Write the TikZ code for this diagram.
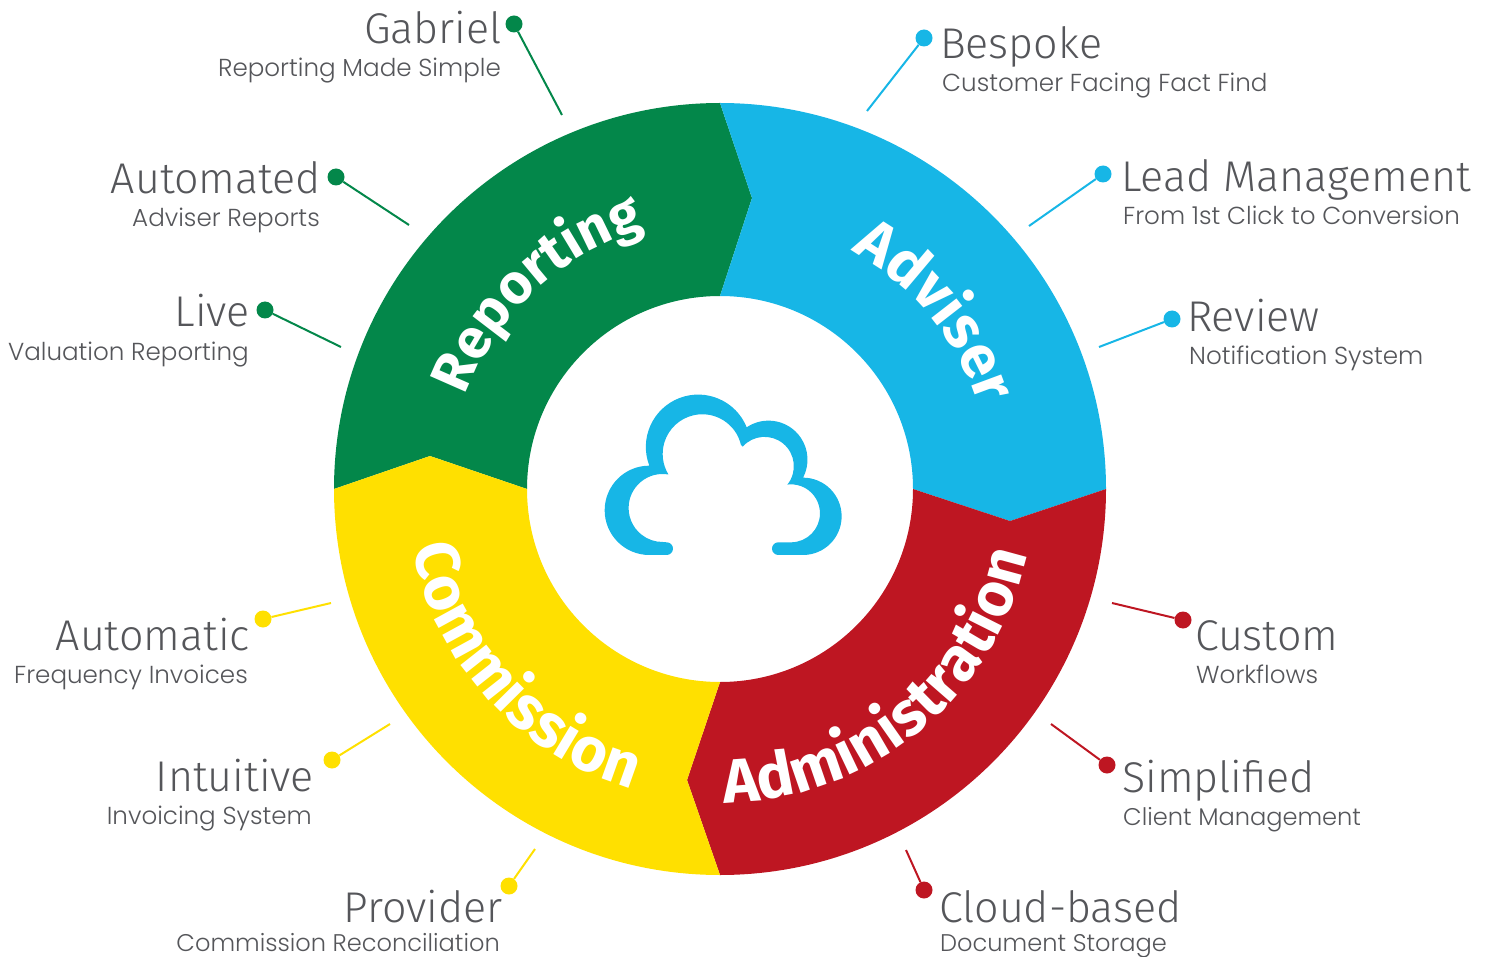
\documentclass[tikz,border=0pt]{standalone}
\usepackage{fontspec}
\setmainfont{Fira Sans}[UprightFont=* Light,BoldFont=* Bold]
\newfontfamily\subfont{Poppins}[UprightFont=* Light]
\usetikzlibrary{decorations.text}
\definecolor{repgreen}{HTML}{03874A}
\definecolor{advblue}{HTML}{17B6E6}
\definecolor{admred}{HTML}{BE1622}
\definecolor{comyellow}{HTML}{FFE000}
\definecolor{labelgrey}{HTML}{55565A}
\tikzset{
  blob/.style={circle,fill=#1,minimum size=17pt,inner sep=0pt},
  lead/.style={line width=2pt,#1},
  bigtext/.style={text=labelgrey,font=\fontsize{43}{43}\selectfont,inner sep=0pt},
  smalltext/.style={text=labelgrey,font=\subfont\fontsize{24.6}{26}\selectfont,inner sep=0pt},
  lowtext/.style={text=labelgrey,font=\subfont\fontsize{24.1}{26}\selectfont,inner sep=0pt},
  ringtext/.style 2 args={decoration={text along path,text align=center,
    text={|\fontsize{#1}{#1}\selectfont\bfseries\color{white}|#2}},decorate}
}
\begin{document}
\begin{tikzpicture}[x=1pt,y=-1pt]
\useasboundingbox (0,0) rectangle (1488,957);
% ring segments
\fill[repgreen] (334,489) arc[start angle=180,end angle=270,radius=386] to (752,198) to (720,296)
  arc[start angle=270,end angle=180,radius=193] to (430,456) to cycle;
\fill[advblue] (720,103) arc[start angle=270,end angle=360,radius=386] to (1010,521) to (913,489)
  arc[start angle=0,end angle=-90,radius=193] to (752,198) to cycle;
\fill[admred] (1106,489) arc[start angle=0,end angle=90,radius=386] to (687,780) to (720,682)
  arc[start angle=90,end angle=0,radius=193] to (1010,521) to cycle;
\fill[comyellow] (720,875) arc[start angle=90,end angle=180,radius=386] to (430,456) to (527,489)
  arc[start angle=180,end angle=90,radius=193] to (687,780) to cycle;
% ring words
\path[ringtext={56}{Reporting}] ([shift={(167:271)}]720,489) arc[start angle=167,end angle=287,radius=271];
\path[ringtext={60}{Adviser}] ([shift={(260.5:272)}]720,489) arc[start angle=260.5,end angle=380.5,radius=272];
\path[ringtext={62}{Administration}] ([shift={(120.6:314)}]720,489) arc[start angle=120.6,end angle=-19.4,radius=314];
\path[ringtext={62}{Commission}] ([shift={(192.8:313)}]720,489) arc[start angle=192.8,end angle=82.8,radius=313];
% cloud
\begin{scope}[shift={(580,380)},x=0.3333pt,y=-0.3333pt]
\fill[advblue] (260,525) to (208,525) arc[start angle=90,end angle=270,radius=134]
  to (208,257) arc[start angle=159,end angle=338,radius=157]
  arc[start angle=236,end angle=387,radius=117]
  to (669,293) arc[start angle=270,end angle=450,radius=116]
  to (595,525) arc[start angle=90,end angle=270,radius=19]
  to (633,487) arc[start angle=90,end angle=-93,radius=87]
  to (622,314) arc[start angle=39,end angle=-138,radius=88]
  to (483,195) arc[start angle=-13,end angle=-211,radius=119]
  to (262,283) arc[start angle=-82,end angle=-270,radius=102]
  to (260,487) arc[start angle=-90,end angle=90,radius=19] to cycle;
\end{scope}
% left labels
\node[blob=repgreen] (gabriel) at (514,24) {};
\coordinate (gabrielend) at (562,115);
\draw[lead=repgreen] (gabriel) to (gabrielend);
\node[bigtext,anchor=base east] at (502,44) {Gabriel};
\node[smalltext,anchor=base east] at (501,77) {Reporting Made Simple};
\node[blob=repgreen] (automated) at (336,177) {};
\coordinate (automatedend) at (409,225);
\draw[lead=repgreen] (automated) to (automatedend);
\node[bigtext,anchor=base east] at (321,194) {Automated};
\node[smalltext,anchor=base east] at (320,227) {Adviser Reports};
\node[blob=repgreen] (live) at (265,310) {};
\coordinate (liveend) at (341,347);
\draw[lead=repgreen] (live) to (liveend);
\node[bigtext,anchor=base east] at (250,327) {Live};
\node[smalltext,anchor=base east] at (249,360) {Valuation Reporting};
\node[blob=comyellow] (automatic) at (263,619) {};
\coordinate (automaticend) at (331,603);
\draw[lead=comyellow] (automatic) to (automaticend);
\node[bigtext,anchor=base east] at (250,650) {Automatic};
\node[smalltext,anchor=base east] at (248,683) {Frequency Invoices};
\node[blob=comyellow] (intuitive) at (332,760) {};
\coordinate (intuitiveend) at (390,724);
\draw[lead=comyellow] (intuitive) to (intuitiveend);
\node[bigtext,anchor=base east] at (314,791) {Intuitive};
\node[smalltext,anchor=base east] at (312,824) {Invoicing System};
\node[blob=comyellow] (provider) at (509,886) {};
\coordinate (providerend) at (535,849);
\draw[lead=comyellow] (provider) to (providerend);
\node[bigtext,anchor=base east] at (503,922) {Provider};
\node[lowtext,anchor=base east] at (500,951) {Commission Reconciliation};
% right labels
\node[blob=advblue] (bespoke) at (924,38) {};
\coordinate (bespokeend) at (867,111);
\draw[lead=advblue] (bespoke) to (bespokeend);
\node[bigtext,anchor=base west] at (940,59) {Bespoke};
\node[smalltext,anchor=base west] at (942,92) {Customer Facing Fact Find};
\node[blob=advblue] (leadman) at (1103,174) {};
\coordinate (leadmanend) at (1029,226);
\draw[lead=advblue] (leadman) to (leadmanend);
\node[bigtext,anchor=base west] at (1121,192) {Lead Management};
\node[smalltext,anchor=base west] at (1123,225) {From 1st Click to Conversion};
\node[blob=advblue] (review) at (1172,319) {};
\coordinate (reviewend) at (1099,347);
\draw[lead=advblue] (review) to (reviewend);
\node[bigtext,anchor=base west] at (1187,332) {Review};
\node[smalltext,anchor=base west] at (1189,365) {Notification System};
\node[blob=admred] (custom) at (1183,620) {};
\coordinate (customend) at (1112,603);
\draw[lead=admred] (custom) to (customend);
\node[bigtext,anchor=base west] at (1195,650) {Custom};
\node[smalltext,anchor=base west] at (1196,683) {Workflows};
\node[blob=admred] (simplified) at (1107,765) {};
\coordinate (simplifiedend) at (1051,724);
\draw[lead=admred] (simplified) to (simplifiedend);
\node[bigtext,anchor=base west] at (1122,792) {Simplified};
\node[lowtext,anchor=base west] at (1123,825) {Client Management};
\node[blob=admred] (cloudbased) at (924,890) {};
\coordinate (cloudbasedend) at (906,850);
\draw[lead=admred] (cloudbased) to (cloudbasedend);
\node[bigtext,anchor=base west] at (939,922) {Cloud-based};
\node[lowtext,anchor=base west] at (940,951) {Document Storage};
\end{tikzpicture}
\end{document}
